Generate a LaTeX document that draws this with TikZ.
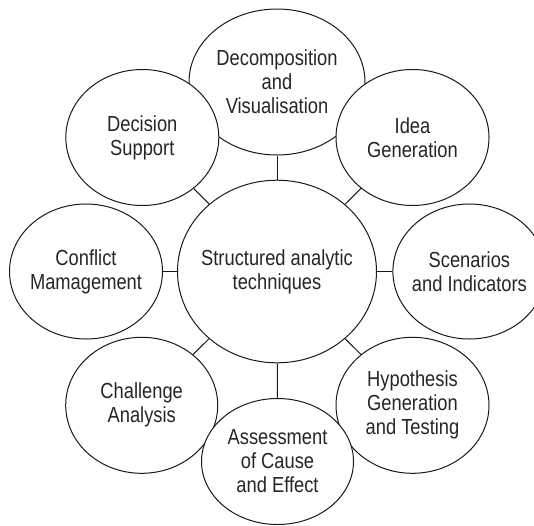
\documentclass[tikz,border=0pt]{standalone}
\usepackage{fontspec}
\setmainfont[FakeStretch=0.84]{Liberation Sans}
\usetikzlibrary{shapes.geometric}
\begin{document}
\begin{tikzpicture}[x=1pt,y=-1pt,
  bub/.style={draw=black!90,line width=1pt,ellipse,inner sep=0pt,fill=white},
  lbl/.style={align=center,text=black!85,font=\fontsize{21.8}{24}\selectfont},
  link/.style={draw=black!90,line width=1pt}]
\useasboundingbox (0,0) rectangle (534,525);
\clip (0,0) rectangle (534,525);
\node[bub,minimum width=199pt,minimum height=182.6pt,label={[lbl]center:Structured analytic\\techniques}] (c) at (277,271.5) {};
\node[bub,minimum width=176pt,minimum height=146pt,label={[lbl]center:Decomposition\\and\\Visualisation}] (dv) at (277,82) {};
\node[bub,minimum width=153pt,minimum height=136pt,label={[lbl]center:Decision\\Support}] (ds) at (142.3,137.5) {};
\node[bub,minimum width=153pt,minimum height=136pt,label={[lbl]center:Idea\\Generation}] (ig) at (412.5,137.5) {};
\node[bub,minimum width=153pt,minimum height=135pt,label={[lbl]center:Conflict\\Mamagement}] (cm) at (86,271.5) {};
\node[bub,minimum width=153pt,minimum height=135pt,label={[lbl]center:Scenarios\\and Indicators}] (si) at (469.4,271.5) {};
\node[bub,minimum width=152pt,minimum height=136pt,label={[lbl]center:Challenge\\Analysis}] (ca) at (141.7,405.3) {};
\node[bub,minimum width=153pt,minimum height=136pt,label={[lbl]center:Hypothesis\\Generation\\and Testing}] (hg) at (412.5,405.3) {};
\node[bub,minimum width=152pt,minimum height=126pt,label={[lbl]center:Assessment\\of Cause\\and Effect}] (ac) at (277.5,461.5) {};
\draw[link] (c) -- (dv);
\draw[link] (c) -- (ds);
\draw[link] (c) -- (ig);
\draw[link] (c) -- (cm);
\draw[link] (c) -- (si);
\draw[link] (c) -- (ca);
\draw[link] (c) -- (hg);
\draw[link] (c) -- (ac);
\end{tikzpicture}
\end{document}
